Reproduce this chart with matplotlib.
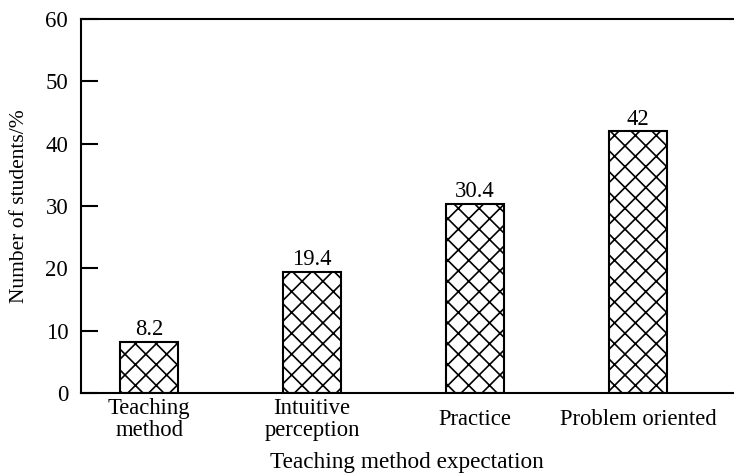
import numpy as np
import matplotlib
matplotlib.use("Agg")
import matplotlib.pyplot as plt

# se dibuja a 125 dpi para que el rayado quede más cerrado; K pasa tamaños de 100 dpi
DPI = 125
K = 100 / DPI

plt.rcParams['font.family'] = ['Liberation Serif', 'DejaVu Serif']
plt.rcParams['hatch.linewidth'] = 1.2 * K

categorias = ["Teaching\nmethod", "Intuitive\nperception", "Practice", "Problem oriented"]
valores = [8.2, 19.4, 30.4, 42]
etiquetas = ["8.2", "19.4", "30.4", "42"]
yticks = [0, 10, 20, 30, 40, 50, 60]

fig = plt.figure(figsize=(734 / DPI, 476 / DPI), dpi=DPI)
ax = fig.add_axes([0.110, 0.174, 0.89, 0.786])

x = np.arange(len(categorias))
barras = ax.bar(x, valores, width=0.36, color="white", edgecolor="black",
                linewidth=1.5 * K, hatch="xx")
ax.bar_label(barras, labels=etiquetas, padding=1, fontsize=16.3 * K)

ax.set_xlim(-0.42, 3.59)
ax.set_ylim(0, 60)
ax.set_yticks(yticks)

# ejes: solo izquierda, abajo y arriba
for lado in ["left", "bottom", "top"]:
    ax.spines[lado].set_linewidth(1.5 * K)
ax.spines["right"].set_visible(False)

ax.tick_params(axis="y", direction="in", length=12 * K, width=1.5 * K,
               labelsize=16.5 * K, pad=9 * K)
ax.set_xticks(x)
ax.set_xticklabels(categorias, fontsize=16.3 * K, linespacing=1.05)
ax.tick_params(axis="x", length=0, pad=19 * K)
for lbl in ax.get_xticklabels():
    lbl.set_va("center")

ax.set_xlabel("Teaching method expectation", fontsize=16.7 * K, labelpad=8 * K)
ax.set_ylabel("Number of students/%", fontsize=15.5 * K, labelpad=12 * K)

fig.savefig("out.png", dpi=DPI)
